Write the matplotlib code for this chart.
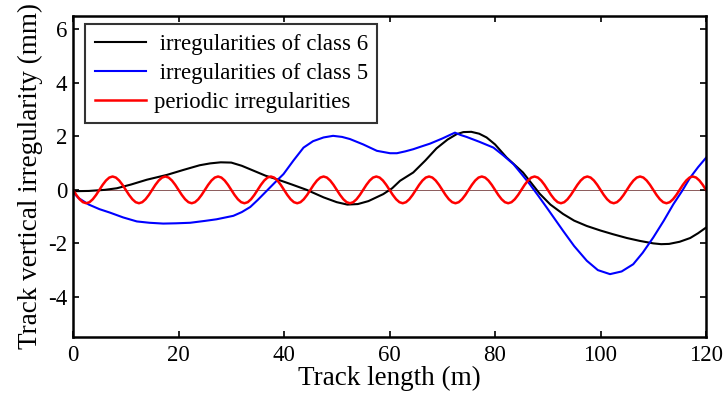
import matplotlib
matplotlib.use("Agg")
import matplotlib.pyplot as plt

plt.rcParams["font.family"] = ["Liberation Serif", "DejaVu Serif"]
plt.rcParams["axes.unicode_minus"] = False

# class 6 irregularity
x_c6 = [0, 3, 6, 8.3, 11, 14, 17.8, 21, 24, 26, 28, 30, 32, 34.8, 36.5, 38.6,
        41.5, 44.3, 47.5, 50, 52, 54, 56, 58.8, 60.5, 62, 64.5, 66.8, 68.9, 71,
        72.7, 74, 75.5, 77, 78.4, 80, 82.2, 85.3, 88.5, 90.5, 92.9, 95, 97.4,
        100, 102.4, 105, 107.5, 110, 111.5, 113, 115, 117, 118.5, 120]
y_c6 = [-0.05, -0.04, 0.0, 0.06, 0.2, 0.38, 0.56, 0.75, 0.92, 0.99, 1.03, 1.02,
        0.9, 0.67, 0.53, 0.4, 0.2, 0.0, -0.28, -0.46, -0.55, -0.53, -0.42,
        -0.16, 0.06, 0.34, 0.65, 1.1, 1.55, 1.88, 2.08, 2.16, 2.17, 2.1, 1.96,
        1.7, 1.21, 0.65, -0.15, -0.55, -0.9, -1.15, -1.35, -1.52, -1.66, -1.8,
        -1.91, -2.0, -2.03, -2.02, -1.94, -1.8, -1.62, -1.41]

# class 5 irregularity
x_c5 = [0, 1, 3, 5, 7, 9.5, 12.1, 14.5, 17.1, 19.5, 22.2, 25, 27.2, 30.4, 32,
        33.6, 35, 36.7, 38.3, 39.9, 41.8, 43.7, 45.5, 47.5, 49.3, 51, 52.5, 55,
        57.6, 60.1, 61.4, 63, 64.5, 66, 67.7, 70, 72.4, 73.5, 74.6, 77, 79.7,
        81.5, 83.5, 85, 86.6, 88.2, 89.8, 92.9, 95, 97.4, 99.5, 101.8, 104,
        106.2, 108, 110, 112, 113.8, 115.5, 117, 118.5, 120]
y_c5 = [-0.08, -0.3, -0.55, -0.72, -0.85, -1.03, -1.18, -1.23, -1.26, -1.25,
        -1.23, -1.16, -1.1, -0.97, -0.83, -0.64, -0.38, -0.04, 0.28, 0.59, 1.1,
        1.58, 1.82, 1.96, 2.02, 1.98, 1.9, 1.7, 1.46, 1.37, 1.37, 1.44, 1.52,
        1.62, 1.73, 1.92, 2.14, 2.05, 1.98, 1.8, 1.58, 1.3, 0.96, 0.6, 0.21,
        -0.22, -0.66, -1.53, -2.1, -2.65, -3.0, -3.15, -3.05, -2.78, -2.35,
        -1.78, -1.15, -0.54, -0.03, 0.46, 0.85, 1.2]

# periodic irregularity: one 10 m wavelength read at 0.625 m steps, 12 waves
one_wave = [0, -0.19, -0.35, -0.46, -0.5, -0.46, -0.35, -0.19,
            0, 0.19, 0.35, 0.46, 0.5, 0.46, 0.35, 0.19]
x_per = [i * 0.625 for i in range(193)]
y_per = one_wave * 12 + [0]

labels = [" irregularities of class 6", " irregularities of class 5",
          "periodic irregularities"]

fig = plt.figure(figsize=(7.28, 3.96), dpi=100)
ax = fig.add_axes([0.1003, 0.149, 0.8695, 0.8106])

ax.axhline(0, color="#8b5a5a", lw=0.7, zorder=1)
ax.plot(x_c6, y_c6, color="black", lw=1.5, label=labels[0])
ax.plot(x_c5, y_c5, color="blue", lw=1.5, label=labels[1])
ax.plot(x_per, y_per, color="red", lw=1.8, label=labels[2])

ax.set_xlim(0, 120)
ax.set_ylim(-5.5, 6.5)
ax.set_xticks([0, 20, 40, 60, 80, 100, 120])
ax.set_yticks([-4, -2, 0, 2, 4, 6])
ax.tick_params(direction="in", top=True, right=True, length=4, width=1.2,
               labelsize=16.5)
ax.tick_params(axis="x", pad=6)
ax.tick_params(axis="y", pad=4)
for s in ax.spines.values():
    s.set_linewidth(1.8)

ax.set_xlabel("Track length (m)", fontsize=19.5, labelpad=0)
ax.set_ylabel("Track vertical irregularity (mm)", fontsize=19.5, labelpad=4)

leg = ax.legend(loc="upper left", bbox_to_anchor=(85 / 728, 1 - 24 / 396),
                bbox_transform=fig.transFigure, fontsize=16.4, frameon=True,
                fancybox=False, edgecolor="black", handlelength=2.25,
                handletextpad=0.35, labelspacing=0.37, borderpad=0.42,
                borderaxespad=0)
leg.get_frame().set_linewidth(1.5)

fig.savefig("out.png", dpi=100)
